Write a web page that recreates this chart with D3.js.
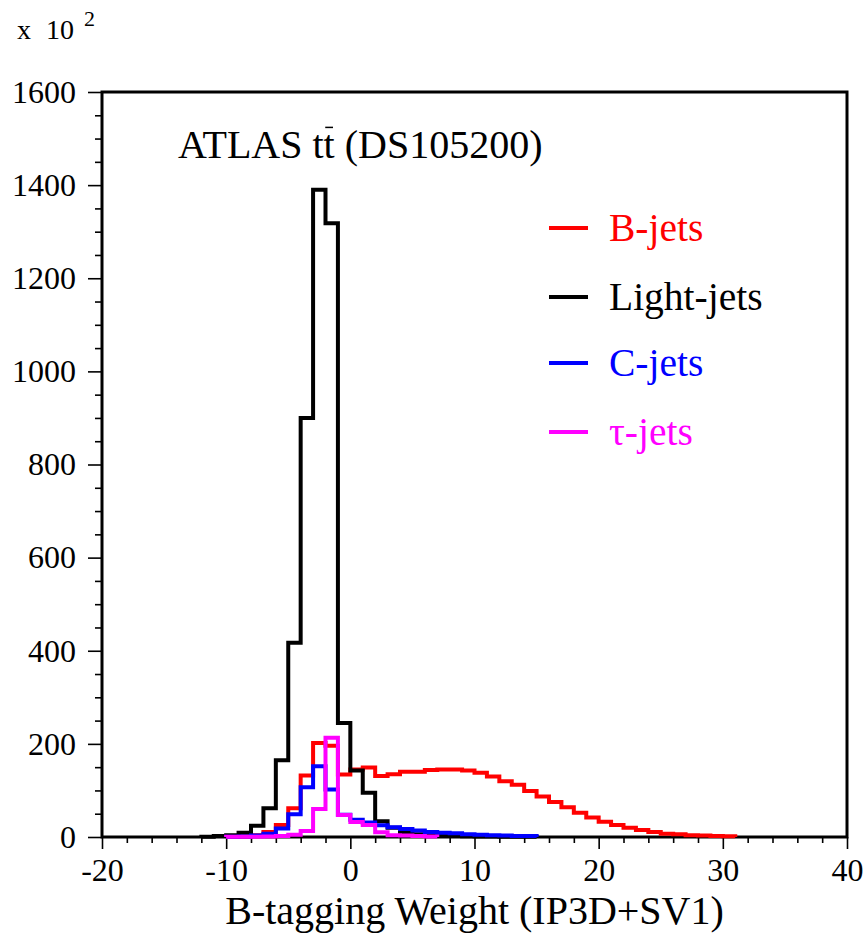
<!DOCTYPE html>
<html>
<head>
<meta charset="utf-8">
<script src="https://cdn.jsdelivr.net/npm/d3@7"></script>
<style>
  html, body { margin: 0; padding: 0; background: #fff; }
  svg { display: block; }
  text { font-family: "Liberation Serif", "Times New Roman", serif; }
</style>
</head>
<body>
<svg id="chart" width="867" height="940"></svg>
<script>
// B-tagging weight distributions (entries in units of 10^2), bin width 1
const binWidth = 1;

const bStart = -10;
const bJets = [0.5, 1, 4, 11, 26, 62, 132, 202, 196, 134,
               145, 149, 131, 135, 140, 140, 144, 145, 145, 143,
               138, 130, 120, 112, 99, 87, 75, 64, 52, 42,
               33, 26, 20, 15, 11, 7, 6, 4, 3, 2, 1.5];

const lightStart = -12;
const lightJets = [0.5, 2, 4, 9, 24, 62, 165, 417, 900, 1390,
                   1318, 245, 143, 95, 34, 20, 11, 6, 4, 3,
                   2, 1.5, 1, 1, 0.5, 0.5, 0.5];

const cStart = -10;
const cJets = [0.5, 1, 3, 7, 18, 49, 107, 152, 102, 48,
               37, 31, 25, 21, 17, 14, 11, 9, 8, 6,
               5, 4, 3, 2, 2];

const tauStart = -10;
const tauJets = [0.3, 0.5, 0.8, 1, 2, 5, 13, 60, 213, 47,
                 32, 26, 10, 4, 3, 2, 1];

const seriesNames = ["B-jets", "Light-jets", "C-jets", "\u03c4-jets"];
const seriesColors = ["#ff0000", "#000000", "#0000ff", "#ff00ff"];

const xMajorTicks = [-20, -10, 0, 10, 20, 30, 40];
const xTickLabels = ["-20", "-10", "0", "10", "20", "30", "40"];
const yMajorTicks = [0, 200, 400, 600, 800, 1000, 1200, 1400, 1600];
const yTickLabels = ["0", "200", "400", "600", "800", "1000", "1200", "1400", "1600"];

const xTitle = "B-tagging Weight (IP3D+SV1)";

const svg = d3.select("#chart");
const plot = { left: 102, right: 847, top: 92, bottom: 837 };

const x = d3.scaleLinear().domain([-20, 40]).range([plot.left, plot.right]);
const y = d3.scaleLinear().domain([0, 1600]).range([plot.bottom, plot.top]);

// frame
svg.append("rect")
  .attr("x", plot.left).attr("y", plot.top)
  .attr("width", plot.right - plot.left)
  .attr("height", plot.bottom - plot.top)
  .attr("fill", "none").attr("stroke", "#000").attr("stroke-width", 3);

// axes: minor ticks first, then major ticks with labels
const xMinor = d3.range(-20, 40.001, 2).filter(v => !xMajorTicks.includes(v));
const yMinor = d3.range(0, 1600.001, 50).filter(v => !yMajorTicks.includes(v));

function styleAxis(g) {
  g.select(".domain").remove();
  g.selectAll(".tick line").attr("stroke", "#000").attr("stroke-width", 1.6);
  g.selectAll(".tick text")
    .attr("fill", "#000")
    .style("font-family", '"Liberation Serif", "Times New Roman", serif')
    .style("font-size", "32px");
}

svg.append("g")
  .attr("transform", `translate(0,${plot.bottom})`)
  .call(d3.axisBottom(x).tickValues(xMinor).tickSize(6).tickFormat(""))
  .call(styleAxis);

svg.append("g")
  .attr("transform", `translate(0,${plot.bottom})`)
  .call(d3.axisBottom(x).tickValues(xMajorTicks).tickSize(12).tickPadding(9)
        .tickFormat((d, i) => xTickLabels[i]))
  .call(styleAxis);

svg.append("g")
  .attr("transform", `translate(${plot.left},0)`)
  .call(d3.axisLeft(y).tickValues(yMinor).tickSize(7).tickFormat(""))
  .call(styleAxis);

svg.append("g")
  .attr("transform", `translate(${plot.left},0)`)
  .call(d3.axisLeft(y).tickValues(yMajorTicks).tickSize(14).tickPadding(12)
        .tickFormat((d, i) => yTickLabels[i]))
  .call(styleAxis);

// histogram outlines
function stepPoints(start, values) {
  const pts = [[start, 0]];
  values.forEach((v, i) => {
    pts.push([start + i * binWidth, v]);
    pts.push([start + (i + 1) * binWidth, v]);
  });
  pts.push([start + values.length * binWidth, 0]);
  return pts;
}

const line = d3.line().x(d => x(d[0])).y(d => y(d[1]));

const histos = [
  { start: bStart, values: bJets },
  { start: lightStart, values: lightJets },
  { start: cStart, values: cJets },
  { start: tauStart, values: tauJets }
];

histos.forEach((h, i) => {
  svg.append("path")
    .attr("d", line(stepPoints(h.start, h.values)))
    .attr("fill", "none")
    .attr("stroke", seriesColors[i])
    .attr("stroke-width", 4)
    .attr("stroke-linejoin", "miter");
});

// axis title
svg.append("text")
  .attr("x", (plot.left + plot.right) / 2)
  .attr("y", 924)
  .attr("text-anchor", "middle")
  .style("font-size", "40px")
  .text(xTitle);

// scale factor label
const expo = svg.append("g");
expo.append("text").attr("x", 17).attr("y", 39).style("font-size", "28px").text("x");
expo.append("text").attr("x", 46).attr("y", 39).style("font-size", "28px").text("10");
expo.append("text").attr("x", 84).attr("y", 26).style("font-size", "22px").text("2");

// sample title with overlined second t
const title = svg.append("text")
  .attr("x", 178).attr("y", 158)
  .style("font-size", "40px")
  .text("ATLAS tt (DS105200)");
const tNode = title.node();
const barChar = tNode.getExtentOfChar(7);
svg.append("line")
  .attr("x1", barChar.x + barChar.width * 0.15)
  .attr("x2", barChar.x + barChar.width * 0.85)
  .attr("y1", barChar.y + barChar.height * 0.12)
  .attr("y2", barChar.y + barChar.height * 0.12)
  .attr("stroke", "#000").attr("stroke-width", 1.5);

// legend
const legendY = [228, 297, 363, 432];
seriesNames.forEach((name, i) => {
  svg.append("line")
    .attr("x1", 549).attr("x2", 588)
    .attr("y1", legendY[i]).attr("y2", legendY[i])
    .attr("stroke", seriesColors[i]).attr("stroke-width", 4);
  svg.append("text")
    .attr("x", 609).attr("y", legendY[i] + 13)
    .attr("fill", seriesColors[i])
    .style("font-size", "39.5px")
    .text(name);
});
</script>
</body>
</html>
